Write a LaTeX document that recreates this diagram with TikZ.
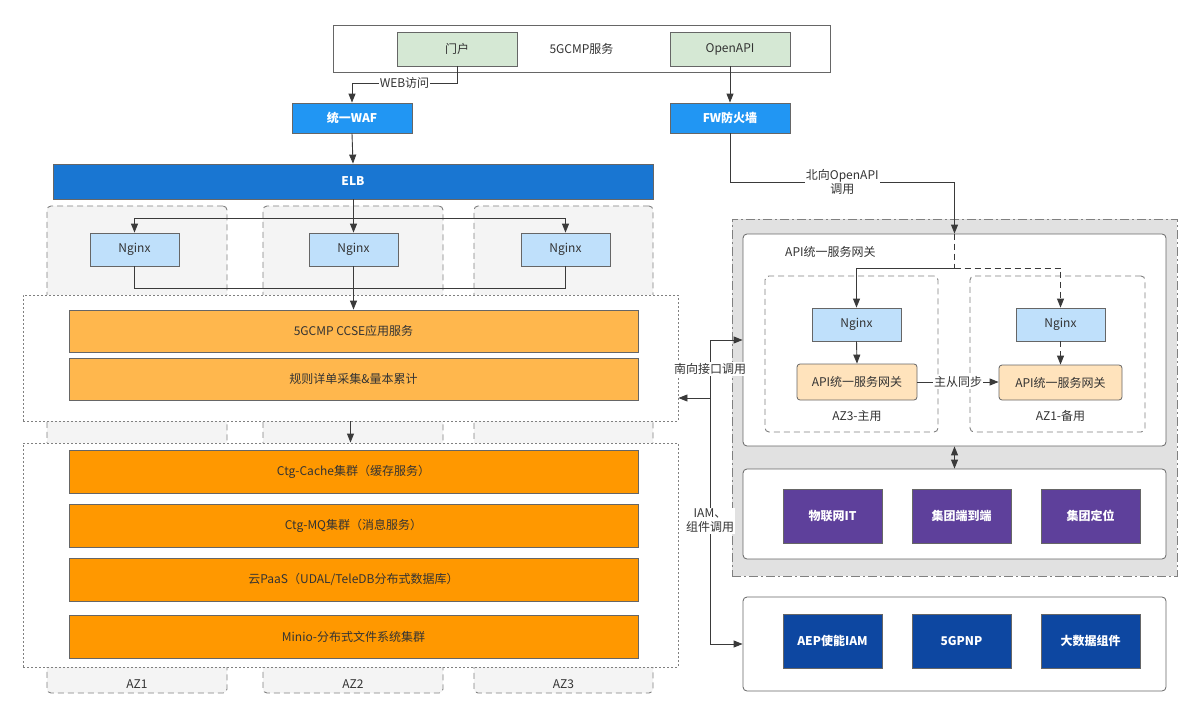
\documentclass[tikz,border=0pt]{standalone}
\usepackage{fontspec}
\setmainfont{Noto Sans CJK SC}
\usetikzlibrary{arrows.meta}
\definecolor{cline}{HTML}{666666}
\definecolor{cconn}{HTML}{3A3A3A}
\definecolor{ctext}{HTML}{333333}
\definecolor{cdash}{HTML}{808080}
\definecolor{cgreen}{HTML}{D5E8D4}
\definecolor{cwaf}{HTML}{2196F3}
\definecolor{celb}{HTML}{1976D2}
\definecolor{cngx}{HTML}{BFE0FB}
\definecolor{corl}{HTML}{FFB74D}
\definecolor{cord}{HTML}{FF9800}
\definecolor{cgw}{HTML}{FFE3BC}
\definecolor{cpur}{HTML}{5E409B}
\definecolor{cblu}{HTML}{0D47A1}
\definecolor{cgray}{HTML}{E1E1E1}
\definecolor{caz}{HTML}{F4F4F4}
\begin{document}
\begin{tikzpicture}[x=1pt,y=-1pt,
  font=\fontsize{12}{14}\selectfont,
  box/.style={draw=cline, line width=0.8pt, inner sep=0pt, text=ctext, align=center},
  plainbox/.style={box, fill=white},
  greenbox/.style={box, fill=cgreen, minimum width=120, minimum height=34},
  wafbox/.style={box, fill=cwaf, text=white, font=\fontsize{12}{14}\selectfont\bfseries, minimum width=120, minimum height=30},
  ngxbox/.style={box, fill=cngx, minimum width=89, minimum height=33},
  orlbox/.style={box, fill=corl, minimum width=569, minimum height=42},
  ordbox/.style={box, fill=cord, minimum width=569, minimum height=43},
  gwbox/.style={box, fill=cgw, rounded corners=3pt, minimum height=36},
  purbox/.style={box, fill=cpur, text=white, font=\fontsize{12}{14}\selectfont\bfseries, minimum width=99, minimum height=54},
  blubox/.style={box, fill=cblu, text=white, font=\fontsize{12}{14}\selectfont\bfseries, minimum width=99, minimum height=54},
  azcol/.style={draw=cdash, fill=caz, line width=0.9pt, dash pattern=on 6pt off 4pt, rounded corners=4pt, minimum width=180, minimum height=487, inner sep=0pt},
  dotbox/.style={draw=cdash, fill=white, line width=0.9pt, dash pattern=on 2pt off 2pt, minimum width=655, inner sep=0pt},
  dashbox/.style={draw=cdash, line width=0.9pt, dash pattern=on 6pt off 4pt, rounded corners=4pt, minimum height=156, inner sep=0pt},
  whitebox/.style={draw=cline, fill=white, line width=0.8pt, rounded corners=4pt, minimum width=423, inner sep=0pt},
  conn/.style={draw=cconn, line width=0.9pt},
  arr/.style={conn, -{Triangle[length=9pt,width=7pt]}},
  lab/.style={fill=white, inner sep=1pt, text=ctext, align=center},
  txt/.style={text=ctext, inner sep=0pt}
]
\useasboundingbox (0,0) rectangle (1199,727);

% top service container
\node[plainbox, minimum width=497, minimum height=47] (svc) at (581.5,48.5) {5GCMP服务};
\node[greenbox] (portal) at (457,49) {门户};
\node[greenbox] (openapi) at (730,49) {OpenAPI};
\node[wafbox] (waf) at (352,118) {统一WAF};
\node[wafbox] (fw) at (730,118) {FW防火墙};
\node[box, fill=celb, text=white, font=\fontsize{12}{14}\selectfont\bfseries, minimum width=600, minimum height=35] (elb) at (353,181.5) {ELB};

% AZ columns
\node[azcol] (az1) at (137,449.5) {};
\node[azcol] (az2) at (353,449.5) {};
\node[azcol, minimum width=179] (az3) at (563.5,449.5) {};
\node[txt] (az1l) at (137,684) {AZ1};
\node[txt] (az2l) at (353,684) {AZ2};
\node[txt] (az3l) at (563.5,684) {AZ3};

% dotted layers
\node[dotbox, minimum height=126] (dot1) at (350.5,358) {};
\node[dotbox, minimum height=224] (dot2) at (350.5,555) {};

% nginx
\node[ngxbox] (ng1) at (134.5,249.5) {Nginx};
\node[ngxbox] (ng2) at (353.5,249.5) {Nginx};
\node[ngxbox] (ng3) at (565.5,249.5) {Nginx};

% application layers
\node[orlbox] (ccse) at (353.5,331) {5GCMP CCSE应用服务};
\node[orlbox] (rule) at (353.5,379) {规则详单采集\&量本累计};
\node[ordbox] (cache) at (353.5,472) {Ctg-Cache集群（缓存服务）};
\node[ordbox] (mq) at (353.5,525.5) {Ctg-MQ集群（消息服务）};
\node[ordbox] (paas) at (353.5,579.5) {云PaaS（UDAL/TeleDB分布式数据库）};
\node[ordbox] (minio) at (353.5,636.5) {Minio-分布式文件系统集群};

% right side
\node[draw=cdash, fill=cgray, line width=0.9pt, dash pattern=on 9pt off 3pt on 2pt off 3pt, minimum width=445, minimum height=357, inner sep=0pt] (gray) at (954.5,397.5) {};
\node[whitebox, minimum height=212] (apibox) at (954.5,340) {};
\node[txt, anchor=west] (apil) at (785,252) {API统一服务网关};
\node[dashbox, minimum width=173] (dA) at (851.5,354) {};
\node[dashbox, minimum width=175] (dB) at (1057.5,354) {};
\node[ngxbox] (ngA) at (856.5,324.5) {Nginx};
\node[ngxbox] (ngB) at (1060.5,324.5) {Nginx};
\node[gwbox, minimum width=120] (gwA) at (857,382) {API统一服务网关};
\node[gwbox, minimum width=123, minimum height=35] (gwB) at (1060.5,382.5) {API统一服务网关};
\node[txt] (azA) at (857,416) {AZ3-主用};
\node[txt] (azB) at (1060.5,416) {AZ1-备用};

\node[whitebox, minimum height=90] (lowbox) at (954.5,514) {};
\node[purbox] (p1) at (832.5,516) {物联网IT};
\node[purbox] (p2) at (961.5,516) {集团端到端};
\node[purbox] (p3) at (1090.5,516) {集团定位};

\node[whitebox, minimum height=94] (botbox) at (954.5,644) {};
\node[blubox] (b1) at (832.5,641) {AEP使能IAM};
\node[blubox] (b2) at (961.5,641) {5GPNP};
\node[blubox] (b3) at (1090.5,641) {大数据组件};

% connectors
\coordinate (w1) at (457,83);
\draw[arr] (portal.south) -- (w1) -| node[lab, pos=0.25] {WEB访问} (waf.north);
\draw[arr] (openapi.south) -- (fw.north);
\draw[arr] (waf.south) -- (elb.north);

\coordinate (h1) at (353.5,218);
\draw[arr] (elb.south -| ng2.north) -- (ng2.north);
\draw[arr] (h1) -| (ng1.north);
\draw[arr] (h1) -| (ng3.north);
\coordinate (h2) at (353.5,288);
\draw[conn] (ng1.south) |- (h2);
\draw[conn] (ng3.south) |- (h2);
\draw[arr] (ng2.south) -- (ccse.north);
\draw[arr] (dot1.south) -- (dot2.north);

\coordinate (nb) at (954.5,182);
\draw[arr] (fw.south) |- node[lab, pos=0.75] {北向OpenAPI\\调用} (nb) -- (apibox.north);
\coordinate (sp) at (954.5,268);
\draw[conn, dash pattern=on 6pt off 4pt] (apibox.north) -- (sp);
\draw[arr] (sp) -| (ngA.north);
\draw[arr, dash pattern=on 6pt off 4pt] (sp) -| (ngB.north);
\draw[arr] (ngA.south) -- (gwA.north);
\draw[arr, dash pattern=on 6pt off 4pt] (ngB.south) -- (gwB.north);
\draw[arr] (gwA.east) -- node[lab] {主从同步} (gwA.east -| gwB.west);

\draw[conn, {Triangle[length=9pt,width=7pt]}-{Triangle[length=9pt,width=7pt]}] (apibox.south) -- (lowbox.north);

\coordinate (sj) at (710,398);
\draw[arr] (sj) -- (sj -| dot1.east);
\draw[arr] (sj) |- node[lab, pos=0.25] {南向接口调用} (apibox.west);
\draw[arr] (sj) |- node[lab, pos=0.25] {IAM、\\组件调用} (botbox.west);
\end{tikzpicture}
\end{document}
